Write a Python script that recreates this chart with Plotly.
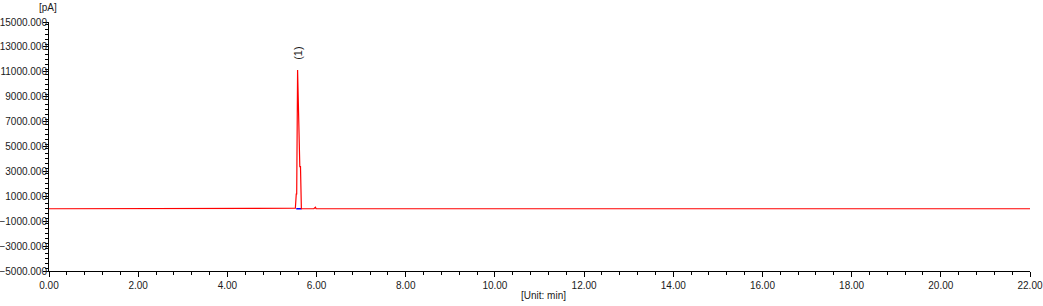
import plotly.graph_objects as go

# Chromatogram signal (time in min, signal in pA)
time_min = [0.0, 5.50, 5.525, 5.545, 5.555, 5.575, 5.595, 5.605, 5.625, 5.64, 5.655, 5.66,
            5.94, 5.96, 5.975, 5.99, 22.0]
signal_pa = [0.0, 0.0, 40.0, 1185.0, 1185.0, 11150.0, 7530.0, 7530.0, 3378.0, 3378.0, 60.0, 0.0,
             0.0, 120.0, 120.0, 0.0, 0.0]

# Integration baseline under peak
base_time = [5.545, 5.665]
base_val = [0.0, 0.0]

peak_labels = ["(1)"]
peak_times = [5.577]
peak_label_y = [12500.0]

x_range = [0.0, 22.0]
y_range = [-5000.0, 15000.0]

font = dict(family="Liberation Sans, Arial, sans-serif", size=10, color="#1a1a1a")

fig = go.Figure()
fig.add_trace(go.Scatter(x=base_time, y=base_val, mode="lines",
                         line=dict(color="#0000ff", width=1.5), hoverinfo="skip"))
fig.add_trace(go.Scatter(x=time_min, y=signal_pa, mode="lines",
                         line=dict(color="#ff0000", width=1.2)))

for lab, t, yv in zip(peak_labels, peak_times, peak_label_y):
    fig.add_annotation(x=t, y=yv, text=lab, textangle=-90, showarrow=False,
                       font=dict(family=font["family"], size=11, color="#1a1a1a"),
                       xref="x", yref="y")

fig.add_annotation(x=-0.001, y=1.06, xref="paper", yref="paper", text="[pA]",
                   showarrow=False, font=font, xanchor="center", yanchor="middle")
fig.add_annotation(x=0.5036, y=-0.10, xref="paper", yref="paper", text="[Unit: min]",
                   showarrow=False, font=font, xanchor="center", yanchor="middle")

fig.update_layout(
    width=1043, height=306,
    margin=dict(l=49, r=13, t=22, b=35, autoexpand=False),
    paper_bgcolor="white", plot_bgcolor="white",
    showlegend=False, font=font,
)
fig.update_xaxes(range=x_range, dtick=2, tick0=0, tickformat=".2f", automargin=False,
                 showgrid=False, zeroline=False, showline=True, linecolor="black",
                 linewidth=1, ticks="outside", ticklen=5, tickcolor="black",
                 minor=dict(dtick=0.4, ticks="outside", ticklen=3, tickcolor="black", showgrid=False),
                 tickfont=font)
fig.update_yaxes(range=y_range, dtick=2000, tick0=-5000, tickformat=".3f", automargin=False,
                 showgrid=False, zeroline=False, showline=True, linecolor="black",
                 linewidth=1, ticks="outside", ticklen=5, tickcolor="black",
                 minor=dict(dtick=400, ticks="outside", ticklen=3, tickcolor="black", showgrid=False),
                 tickfont=font, ticklabelstandoff=-6)

fig.write_html("out.html")
